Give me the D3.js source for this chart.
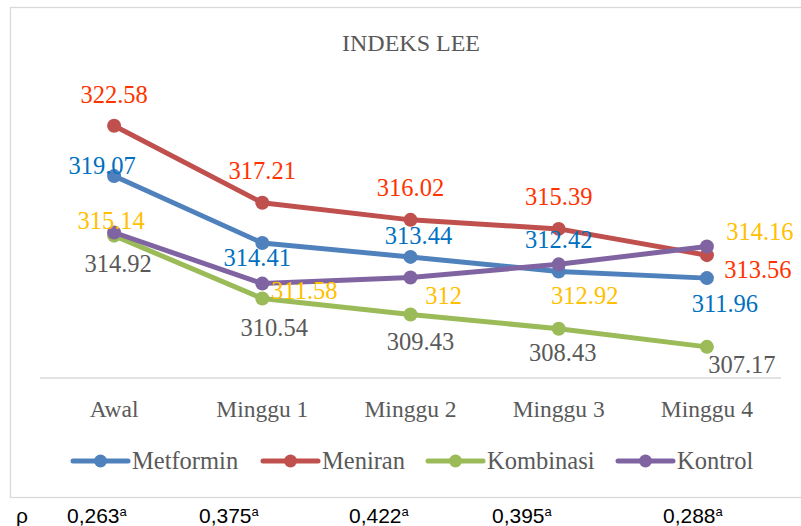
<!DOCTYPE html>
<html lang="id">
<head>
<meta charset="UTF-8">
<title>Indeks Lee</title>
<script src="https://cdn.jsdelivr.net/npm/d3@7"></script>
<style>
    body { margin: 0; background: #fff; }
    svg { display: block; }
    .lbl { font-family: "Liberation Serif", serif; font-size: 24.5px; }
    .cat, .leg, .title { font-family: "Liberation Serif", serif; fill: #595959; }
    .rho { font-family: "Liberation Sans", sans-serif; font-size: 21px; fill: #000; }
</style>
</head>
<body>
<script>
    // data
    var categories = ["Awal", "Minggu 1", "Minggu 2", "Minggu 3", "Minggu 4"];
    var seriesNames = ["Metformin", "Meniran", "Kombinasi", "Kontrol"];
    var metformin = [319.07, 314.41, 313.44, 312.42, 311.96];
    var meniran   = [322.58, 317.21, 316.02, 315.39, 313.56];
    var kombinasi = [314.92, 310.54, 309.43, 308.43, 307.17];
    var kontrol   = [315.14, 311.58, 312, 312.92, 314.16];
    var rhoValues = ["0,263", "0,375", "0,422", "0,395", "0,288"];

    var lineColors  = ["#4f81bd", "#c0504d", "#9bbb59", "#8064a2"];
    var labelColors = ["#0070c0", "#ff3300", "#595959", "#ffc000"];

    // manual label offsets [dx, dy] per series / point (like dragged excel labels)
    var labelOffsets = [
        [[-12, -10], [-5, 15], [8, -21], [0, -32], [18, 26]],
        [[0, -31], [0, -32], [0, -32], [0, -32], [51, 15]],
        [[4, 28], [12, 29], [10, 27], [4, 24], [35, 18]],
        [[-3, -12], [42, 7], [33, 18], [26, 31], [53, -15]]
    ];

    var allSeries = [metformin, meniran, kombinasi, kontrol];

    var W = 801, H = 526;
    var svg = d3.select("body").append("svg").attr("width", W).attr("height", H);

    // chart border (right side runs off the picture)
    svg.append("rect")
        .attr("x", 10.5).attr("y", 7.5)
        .attr("width", 820).attr("height", 490)
        .attr("fill", "#fff").attr("stroke", "#d9d9d9").attr("stroke-width", 1.3);

    svg.append("text").attr("class", "title")
        .attr("x", 411).attr("y", 51)
        .attr("text-anchor", "middle").attr("font-size", 24)
        .text("INDEKS LEE");

    var x = d3.scaleBand().domain(categories).range([40, 781]);
    var y = d3.scaleLinear().domain([305, 325]).range([378, 91]);

    // axis line
    svg.append("line")
        .attr("x1", 40).attr("x2", 781)
        .attr("y1", y(305)).attr("y2", y(305))
        .attr("stroke", "#d9d9d9").attr("stroke-width", 1.5);

    svg.selectAll(".cat").data(categories).enter().append("text")
        .attr("class", "cat")
        .attr("x", function (d) { return x(d) + x.bandwidth() / 2; })
        .attr("y", 417)
        .attr("text-anchor", "middle").attr("font-size", 23.5)
        .text(function (d) { return d; });

    var line = d3.line()
        .x(function (d, i) { return x(categories[i]) + x.bandwidth() / 2; })
        .y(function (d) { return y(d); });

    allSeries.forEach(function (s, k) {
        var g = svg.append("g");
        g.append("path")
            .attr("d", line(s))
            .attr("fill", "none")
            .attr("stroke", lineColors[k])
            .attr("stroke-width", 5)
            .attr("stroke-linejoin", "round")
            .attr("stroke-linecap", "round");
        g.selectAll("circle").data(s).enter().append("circle")
            .attr("cx", function (d, i) { return x(categories[i]) + x.bandwidth() / 2; })
            .attr("cy", function (d) { return y(d); })
            .attr("r", 7)
            .attr("fill", lineColors[k]);
    });

    allSeries.forEach(function (s, k) {
        svg.append("g").selectAll("text").data(s).enter().append("text")
            .attr("class", "lbl")
            .attr("x", function (d, i) { return x(categories[i]) + x.bandwidth() / 2 + labelOffsets[k][i][0]; })
            .attr("y", function (d, i) { return y(d) + labelOffsets[k][i][1]; })
            .attr("dy", "0.34em")
            .attr("text-anchor", "middle")
            .attr("fill", labelColors[k])
            .text(function (d) { return String(d); });
    });

    // legend
    var legX = [73, 263, 428, 618];
    var leg = svg.append("g");
    seriesNames.forEach(function (n, k) {
        var g = leg.append("g").attr("transform", "translate(" + legX[k] + ",461)");
        g.append("line").attr("x1", 0).attr("x2", 55)
            .attr("stroke", lineColors[k]).attr("stroke-width", 5)
            .attr("stroke-linecap", "round");
        g.append("circle").attr("cx", 27.5).attr("r", 6.5).attr("fill", lineColors[k]);
        g.append("text").attr("class", "leg")
            .attr("x", 59).attr("y", 8)
            .attr("font-size", 24.5)
            .text(n);
    });

    // rho row under the chart
    svg.append("text").attr("class", "rho").attr("x", 16).attr("y", 523).text("ρ");
    var rhoX = [67, 199, 349, 492, 663];
    rhoValues.forEach(function (v, i) {
        var t = svg.append("text").attr("class", "rho").attr("x", rhoX[i]).attr("y", 523);
        t.append("tspan").text(v);
        t.append("tspan").attr("font-size", 13).attr("dy", -7).text("a");
    });
</script>
</body>
</html>
